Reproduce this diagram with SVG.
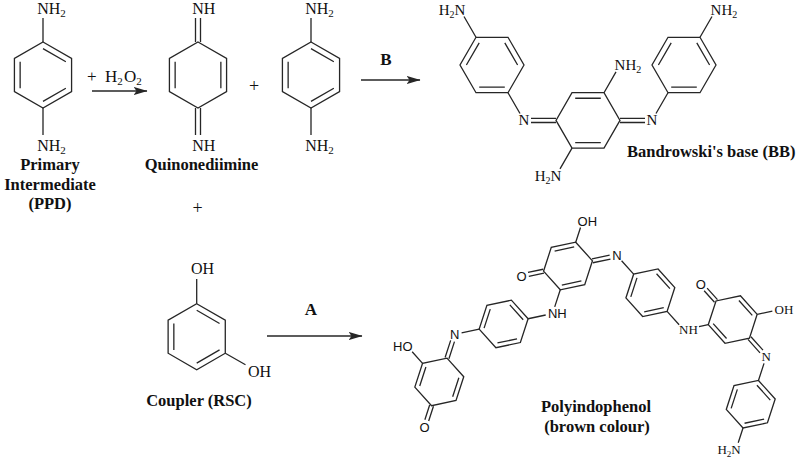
<svg xmlns="http://www.w3.org/2000/svg" width="800" height="461" viewBox="0 0 800 461">
<style>
.bd{stroke:#262626;stroke-width:1.3;fill:none;stroke-linecap:butt;stroke-linejoin:miter}
.at{font-family:"Liberation Serif","Times New Roman",serif;font-size:16px;fill:#111}
.at15{font-family:"Liberation Serif","Times New Roman",serif;font-size:15px;fill:#111}
.at13{font-family:"Liberation Serif","Times New Roman",serif;font-size:13px;fill:#111}
.sa{font-family:"Liberation Sans",Arial,sans-serif;font-size:13px;fill:#111}
.lb{font-family:"Liberation Serif","Times New Roman",serif;font-size:16.5px;font-weight:bold;fill:#111}
.ar{stroke:#262626;stroke-width:1.4;fill:none}
.m{text-anchor:middle}
.e{text-anchor:end}
.big{font-size:18px}
.sub{font-size:11px}
.sub10{font-size:10px}
.sub9{font-size:9px}
</style>
<defs>
<marker id="ah" viewBox="0 0 14 10" refX="13.5" refY="5" markerWidth="14" markerHeight="10" markerUnits="userSpaceOnUse" orient="auto"><path d="M0,0.8 L14,5 L0,9.2 L3,5 Z" fill="#262626"/></marker>
<g id="benzP" class="bd">
<polygon points="0,-33 28.58,-16.5 28.58,16.5 0,33 -28.58,16.5 -28.58,-16.5"/>
<path d="M0,-26.4 L22.86,-13.2 M22.86,13.2 L0,26.4 M-22.86,13.2 L-22.86,-13.2"/>
</g>
<g id="qdi" class="bd">
<polygon points="0,-33 28.58,-16.5 28.58,16.5 0,33 -28.58,16.5 -28.58,-16.5"/>
<path d="M22.86,-13.2 L22.86,13.2 M-22.86,13.2 L-22.86,-13.2"/>
</g>
<g id="phF" class="bd">
<polygon points="32,0 16,27.71 -16,27.71 -32,0 -16,-27.71 16,-27.71"/>
<path d="M12.8,-22.17 L25.6,0 M12.8,22.17 L-12.8,22.17 M-25.6,0 L-12.8,-22.17"/>
</g>
<g id="cenF" class="bd">
<polygon points="32,0 16,27.71 -16,27.71 -32,0 -16,-27.71 16,-27.71"/>
<path d="M-12.8,-22.17 L12.8,-22.17 M-12.8,22.17 L12.8,22.17"/>
</g>
<polygon id="h25" class="bd" points="25,0 12.5,21.65 -12.5,21.65 -25,0 -12.5,-21.65 12.5,-21.65"/>
<g id="ph25" class="bd">
<use href="#h25"/>
<path d="M10,-17.32 L20,0 M10,17.32 L-10,17.32 M-20,0 L-10,-17.32"/>
</g>
</defs>

<g id="ppd">
<use href="#benzP" x="43" y="75"/>
<path class="bd" d="M43,42 L43,18 M43,108 L43,135"/>
<text class="at" x="37.2" y="14">NH<tspan class="sub" dy="3">2</tspan></text>
<text class="at" x="37.2" y="151">NH<tspan class="sub" dy="3">2</tspan></text>
<text class="lb m" x="50" y="170">Primary</text>
<text class="lb m" x="50" y="190">Intermediate</text>
<text class="lb m" x="50" y="209">(PPD)</text>
</g>

<g id="quinonediimine">
<use href="#qdi" x="198" y="75"/>
<path class="bd" d="M195.5,42 L195.5,18 M200.5,42 L200.5,18 M195.5,108 L195.5,135 M200.5,108 L200.5,135"/>
<text class="at" x="192.2" y="14">NH</text>
<text class="at" x="192.2" y="151">NH</text>
<text class="lb m" x="201.5" y="170">Quinonediimine</text>
</g>

<g id="ppd2">
<use href="#benzP" x="311" y="75"/>
<path class="bd" d="M311,42 L311,18 M311,108 L311,135"/>
<text class="at" x="305.2" y="14">NH<tspan class="sub" dy="3">2</tspan></text>
<text class="at" x="305.2" y="151">NH<tspan class="sub" dy="3">2</tspan></text>
</g>

<g id="plus-signs">
<text class="at big m" x="254" y="92">+</text>
<text class="at big m" x="197.5" y="214">+</text>
</g>

<g id="bandrowski">
<use href="#phF" x="492" y="65"/>
<use href="#cenF" x="588" y="120.42"/>
<use href="#phF" x="684" y="65"/>
<path class="bd" d="M476,37.29 L464,16.5 M508,92.71 L520,113.5 M531,118.3 L556,118.3 M531,122.5 L556,122.5 M620,118.3 L645,118.3 M620,122.5 L645,122.5 M656,113.5 L668,92.71 M604,92.71 L616,71.9 M572,148.13 L560,168.9 M700,37.29 L712,16.5"/>
<text class="at15 e" x="465.4" y="14.6">H<tspan class="sub10" dy="3">2</tspan><tspan dy="-3">N</tspan></text>
<text class="at15 m" x="524" y="125.4">N</text>
<text class="at15" x="614.6" y="70">NH<tspan class="sub10" dy="3">2</tspan></text>
<text class="at15 e" x="561.4" y="181">H<tspan class="sub10" dy="3">2</tspan><tspan dy="-3">N</tspan></text>
<text class="at15 m" x="652" y="125.4">N</text>
<text class="at15" x="710.6" y="14.6">NH<tspan class="sub10" dy="3">2</tspan></text>
<text class="lb" x="627" y="157">Bandrowski's base (BB)</text>
</g>

<g id="coupler">
<use href="#benzP" x="196.7" y="336.7"/>
<path class="bd" d="M196.7,303.7 L196.7,279 M225.3,353.2 L245.5,364.8"/>
<text class="at" x="190.9" y="274">OH</text>
<text class="at" x="248" y="377">OH</text>
<text class="lb m" x="199" y="406">Coupler (RSC)</text>
</g>

<g id="polyindophenol">
<g class="bd" transform="translate(568 266) rotate(-12)">
<use href="#ph25" x="-75" y="43.3"/>
<use href="#ph25" x="75" y="43.3"/>
<use href="#ph25" x="150" y="173.2"/>
<use href="#h25" x="-150" y="86.6"/>
<use href="#h25" x="0" y="0"/>
<use href="#h25" x="150" y="86.6"/>
<path d="M-160,69.28 L-170,86.6 M-140,103.92 L-130,86.6 M10,-17.32 L-10,-17.32 M-10,17.32 L10,17.32 M160,69.28 L170,86.6 M140,103.92 L130,86.6"/>
<path d="M53.5,6.06 L62.5,21.65 M87.5,64.95 L96.5,80.54 M115.5,86.6 L125,86.6 M-12.5,21.65 L-21.5,37.24 M-50,43.3 L-32,43.3 M-100,43.3 L-118,43.3 M-162.5,64.95 L-170.25,51.53 M12.5,-21.65 L20.25,-35.07 M175,86.6 L190.5,86.6 M171.5,135.96 L162.5,151.55 M137.5,194.85 L129.75,208.27"/>
<path d="M25,-2 L43,-2 M25,2 L43,2 M-126.77,50.36 L-135.77,65.95 M-130.23,48.36 L-139.23,63.95 M-160.77,109.25 L-168.52,122.67 M-164.23,107.25 L-171.98,120.67 M-25,-2 L-40.5,-2 M-25,2 L-40.5,2 M139.23,63.95 L131.48,50.53 M135.77,65.95 L128.02,52.53 M164.23,107.25 L173.23,122.84 M160.77,109.25 L169.77,124.84"/>
</g>
<text class="sa m" x="616.9" y="260.3">N</text>
<text class="sa" x="547.9" y="318.2">NH</text>
<text class="sa m" x="454.7" y="339">N</text>
<text class="sa e" x="412.6" y="351.3">HO</text>
<text class="sa m" x="424.6" y="431.8">O</text>
<text class="sa m" x="521.5" y="280.6">O</text>
<text class="sa" x="577.6" y="225.5">OH</text>
<text class="sa m" x="700.9" y="288.9">O</text>
<text class="at13" x="679.1" y="334.2">NH</text>
<text class="at13" x="774.5" y="313.9">OH</text>
<text class="at13 m" x="766.2" y="361">N</text>
<text class="at13 e" x="740.7" y="453.7">H<tspan class="sub9" dy="3">2</tspan><tspan dy="-3">N</tspan></text>
<text class="lb m" x="596" y="412">Polyindophenol</text>
<text class="lb m" x="597" y="432">(brown colour)</text>
</g>

<g id="connectors">
<line class="ar" x1="92" y1="91" x2="147" y2="91" marker-end="url(#ah)"/>
<line class="ar" x1="361" y1="80" x2="420" y2="80" marker-end="url(#ah)"/>
<line class="ar" x1="267" y1="336" x2="362" y2="336" marker-end="url(#ah)"/>
<text class="at" style="font-size:17px"><tspan x="87" y="82">+</tspan><tspan x="105">H</tspan><tspan class="sub" dy="3">2</tspan><tspan x="124" dy="-3">O</tspan><tspan class="sub" dy="3">2</tspan></text>
<text class="lb m" style="font-size:17px" x="386" y="65">B</text>
<text class="lb m" style="font-size:17px" x="311" y="315">A</text>
</g>
</svg>
